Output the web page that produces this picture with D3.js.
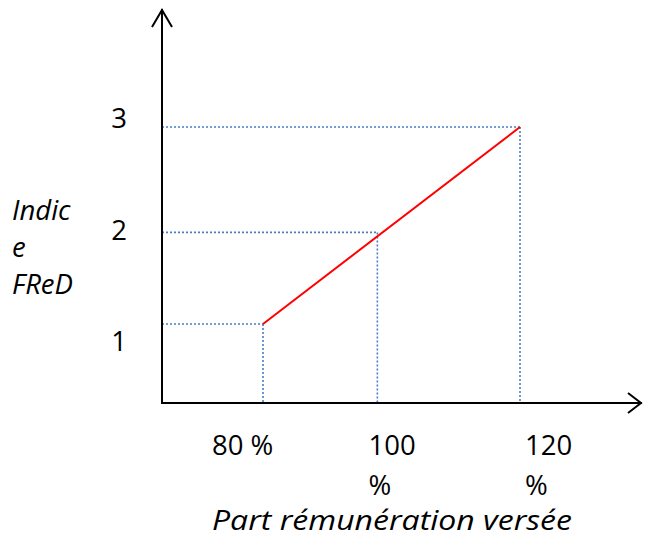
<!DOCTYPE html>
<html>
<head>
<meta charset="utf-8">
<script src="https://cdn.jsdelivr.net/npm/d3@7"></script>
<style>
  body { margin: 0; background: #fff; }
  text { font-family: "Open Sans", "Noto Sans", sans-serif; fill: #000; }
</style>
</head>
<body>
<svg width="645" height="540"></svg>
<script>
// values
var shares = [80, 97.8, 120];          // part rémunération versée (%)
var indices = [1, 1.93, 3];            // indice FReD
var xTickLabels = [["80 %"], ["100", "%"], ["120", "%"]];
var xTickValues = [80, 100, 120];
var yTickLabels = ["1", "2", "3"];
var yTickValues = [1, 2, 3];
var yTitle = ["Indic", "e", "FReD"];
var xTitle = "Part rémunération versée";

var vis = d3.select("svg");
var fs = 27.5;

// mark scales
var x = d3.scaleLinear().domain([80, 120]).range([263, 520]);
var y = d3.scaleLinear().domain([1, 3]).range([324, 127]);
// label scales (labels in the sketch sit slightly apart from the guides)
var xl = d3.scaleLinear().domain([80, 120]).range([212, 525]);
var yl = d3.scaleLinear().domain([1, 3]).range([351, 128]);

var x0 = 162, y0 = 403;

var pts = shares.map(function(s, i) { return {x: s, y: indices[i]}; });

// dotted guides
var guides = vis.append("g")
    .attr("stroke", "#4a7ebf")
    .attr("stroke-width", 1.6)
    .attr("stroke-dasharray", "2,2");
guides.selectAll("line.h").data(pts).enter().append("line")
    .attr("class", "h")
    .attr("x1", x0).attr("x2", function(d) { return x(d.x); })
    .attr("y1", function(d) { return y(d.y); }).attr("y2", function(d) { return y(d.y); });
guides.selectAll("line.v").data(pts).enter().append("line")
    .attr("class", "v")
    .attr("x1", function(d) { return x(d.x); }).attr("x2", function(d) { return x(d.x); })
    .attr("y1", function(d) { return y(d.y); }).attr("y2", y0);

// red line between first and last point
var ends = [pts[0], pts[pts.length - 1]];
vis.append("path")
    .datum(ends)
    .attr("fill", "none")
    .attr("stroke", "#ff0000")
    .attr("stroke-width", 2)
    .attr("d", d3.line().x(function(d) { return x(d.x); }).y(function(d) { return y(d.y); }));

// axes with open arrow heads
var ax = vis.append("g").attr("stroke", "#000").attr("stroke-width", 2).attr("fill", "none");
ax.append("line").attr("x1", x0).attr("y1", y0 + 1).attr("x2", x0).attr("y2", 9);
ax.append("path").attr("d", "M" + (x0 - 10) + ",27L" + x0 + ",10L" + (x0 + 10) + ",27");
ax.append("line").attr("x1", x0 - 1).attr("y1", y0).attr("x2", 642).attr("y2", y0);
ax.append("path").attr("d", "M628," + (y0 - 10) + "L641," + y0 + "L628," + (y0 + 10));

// y tick labels
vis.selectAll("text.yt").data(yTickValues).enter().append("text")
    .attr("class", "yt")
    .attr("x", 119)
    .attr("y", function(d) { return yl(d); })
    .attr("text-anchor", "middle")
    .attr("font-size", fs)
    .text(function(d, i) { return yTickLabels[i]; });

// x tick labels (wrapped)
var xt = vis.selectAll("text.xt").data(xTickValues).enter().append("text")
    .attr("class", "xt")
    .attr("font-size", fs);
xt.selectAll("tspan").data(function(d, i) {
        return xTickLabels[i].map(function(t) { return {v: d, t: t}; });
    }).enter().append("tspan")
    .attr("x", function(d) { return xl(d.v); })
    .attr("y", function(d, j) { return 455 + j * 40; })
    .text(function(d) { return d.t; });

// axis titles
vis.append("text")
    .attr("font-size", fs).attr("font-style", "italic")
    .selectAll("tspan").data(yTitle).enter().append("tspan")
    .attr("x", 12)
    .attr("y", function(d, i) { return 220 + i * 37; })
    .text(function(d) { return d; });

vis.append("text")
    .attr("x", 212).attr("y", 530)
    .attr("font-size", fs).attr("font-style", "italic")
    .attr("textLength", 360).attr("lengthAdjust", "spacingAndGlyphs")
    .text(xTitle);
</script>
</body>
</html>
